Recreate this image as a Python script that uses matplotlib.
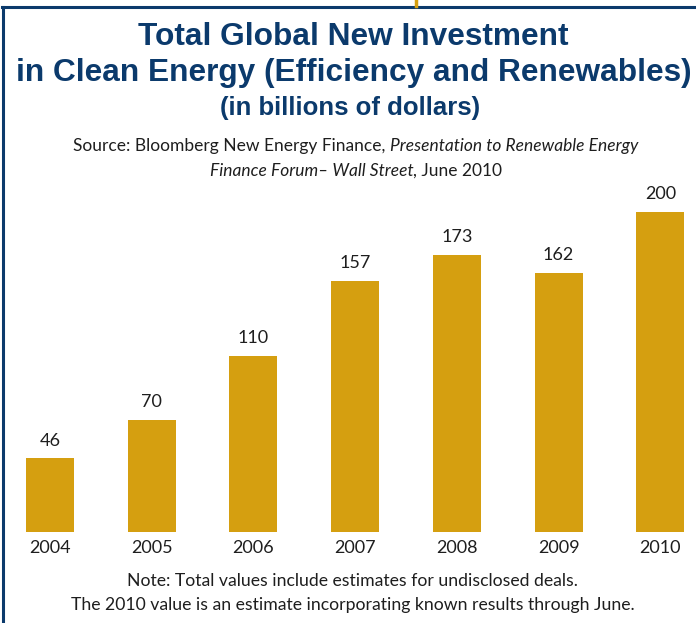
"""
Total global new investment in clean energy, 2004-2010 (bar chart).

Run:
    python plot.py

Output:
    out.png
"""

import matplotlib

matplotlib.use("Agg")
import matplotlib.pyplot as plt
from matplotlib.lines import Line2D

years = ["2004", "2005", "2006", "2007", "2008", "2009", "2010"]
investment = [46, 70, 110, 157, 173, 162, 200]

title_lines = [
    "Total Global New Investment",
    "in Clean Energy (Efficiency and Renewables)",
]
subtitle = "(in billions of dollars)"
source_line_1 = [
    ("Source: Bloomberg New Energy Finance, ", "normal"),
    ("Presentation to Renewable Energy", "italic"),
]
source_line_2 = [
    ("Finance Forum\u2013 Wall Street", "italic"),
    (", June 2010", "normal"),
]
notes = [
    "Note: Total values include estimates for undisclosed deals.",
    "The 2010 value is an estimate incorporating known results through June.",
]

NAVY = "#0B3A6C"
GOLD = "#D59F10"
TEXT = "#1E1E1E"
TITLE_FONT = ["Liberation Sans", "DejaVu Sans"]
BODY_FONT = ["Lato", "DejaVu Sans"]

W, H = 696, 623


def fy(px: float) -> float:
    # pixel row (from top) -> figure fraction
    return 1 - px / H


def draw_mixed_line(fig, y_px, parts, size):
    renderer = fig.canvas.get_renderer()
    texts = []
    for s, style in parts:
        t = fig.text(0, fy(y_px), s, fontsize=size, style=style, color=TEXT,
                     family=BODY_FONT, ha="left", va="center")
        texts.append(t)
    widths = [t.get_window_extent(renderer).width for t in texts]
    x = (fig.bbox.width - sum(widths)) / 2 + 8
    for t, w in zip(texts, widths):
        t.set_x(x / fig.bbox.width)
        x += w


def main() -> None:
    fig = plt.figure(figsize=(W / 100, H / 100), dpi=100)

    # frame lines
    fig.add_artist(Line2D([2 / W, 1], [fy(6.5), fy(6.5)], color=NAVY, lw=2.2))
    fig.add_artist(Line2D([3 / W, 3 / W], [0, fy(6.5)], color=NAVY, lw=2.2))
    fig.add_artist(Line2D([416 / W, 416 / W], [1, fy(5.5)], color=GOLD, lw=2.5))

    # titles
    fig.text(0.508, fy(37), title_lines[0], ha="center", va="center",
             fontsize=22.8, fontweight="bold", color=NAVY, family=TITLE_FONT)
    fig.text(0.508, fy(73), title_lines[1], ha="center", va="center",
             fontsize=22.8, fontweight="bold", color=NAVY, family=TITLE_FONT)
    fig.text(0.503, fy(108), subtitle, ha="center", va="center",
             fontsize=18.5, fontweight="bold", color=NAVY, family=TITLE_FONT)

    draw_mixed_line(fig, 146, source_line_1, 12.5)
    draw_mixed_line(fig, 171, source_line_2, 12.5)

    # bar area: baseline at px 532, 1.6 px per billion
    ax = fig.add_axes([0, 1 - 532 / H, 1, 332 / H])
    x = list(range(len(years)))
    ax.bar(x, investment, width=0.47, color=GOLD)
    for xi, v in zip(x, investment):
        ax.annotate(str(v), (xi, v), xytext=(0, 7), textcoords="offset points",
                    ha="center", va="bottom", fontsize=13, color=TEXT,
                    family=BODY_FONT)
    ax.set_xlim(-0.49, 6.35)
    ax.set_ylim(0, 207.5)
    ax.set_xticks(x)
    ax.set_xticklabels(years, fontsize=13, color=TEXT, family=BODY_FONT)
    ax.tick_params(axis="x", length=0, pad=6)
    ax.set_yticks([])
    for spine in ax.spines.values():
        spine.set_visible(False)
    ax.patch.set_alpha(0)

    fig.text(0.507, fy(581), notes[0], ha="center", va="center",
             fontsize=12.7, color=TEXT, family=BODY_FONT)
    fig.text(0.507, fy(605), notes[1], ha="center", va="center",
             fontsize=12.7, color=TEXT, family=BODY_FONT)

    fig.savefig("out.png", dpi=100)
    plt.close(fig)


if __name__ == "__main__":
    main()
